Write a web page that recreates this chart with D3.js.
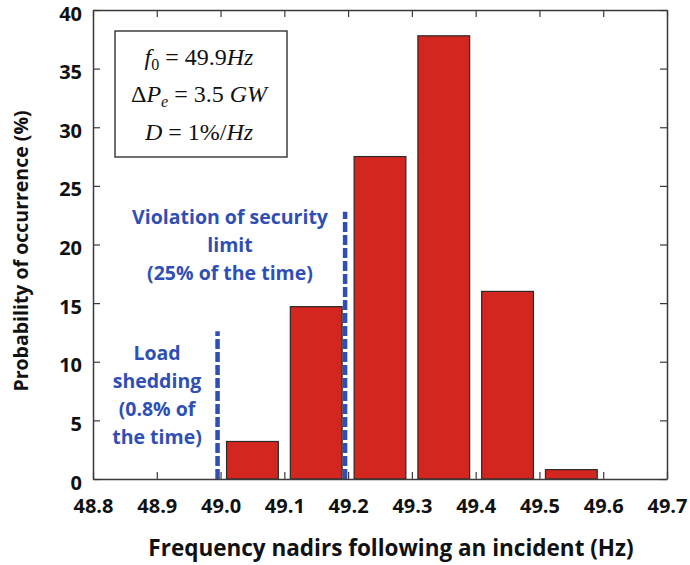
<!DOCTYPE html>
<html><head><meta charset="utf-8">
<script src="https://cdn.jsdelivr.net/npm/d3@7"></script>
<style>body{margin:0;background:#fff}svg{display:block}</style>
</head><body>
<svg id="chart" width="690" height="565"></svg>
<script>
const binStarts = [49.0, 49.1, 49.2, 49.3, 49.4, 49.5];
const binWidth = 0.1;
const probabilities = [3.2, 14.7, 27.5, 37.8, 16.0, 0.8];
const xTickValues = [48.8, 48.9, 49.0, 49.1, 49.2, 49.3, 49.4, 49.5, 49.6, 49.7];
const yTickValues = [0, 5, 10, 15, 20, 25, 30, 35, 40];
const limitX = [49.0, 49.2];
const limitTop = [12.6, 22.8];
const loadLabel = ["Load", "shedding", "(0.8% of", "the time)"];
const violationLabel = ["Violation of security", "limit", "(25% of the time)"];

const svg = d3.select("#chart");
const L = 93, R = 667, T = 10, B = 479;
const x = d3.scaleLinear().domain([48.8, 49.7]).range([L, R]);
const y = d3.scaleLinear().domain([0, 40]).range([B, T]);
const font = "'Open Sans', sans-serif";
const axisColor = "#3a3a3a";
const blue = "#2f4fb5";

// bars
svg.append("g").selectAll("rect").data(binStarts).join("rect")
  .attr("x", d => x(d) + 6)
  .attr("width", d => x(d + binWidth) - x(d) - 12)
  .attr("y", (d, i) => y(probabilities[i]))
  .attr("height", (d, i) => y(0) - y(probabilities[i]))
  .attr("fill", "#d3261e")
  .attr("stroke", "#2a2a2a")
  .attr("stroke-width", 1.2);

// dashed limit lines
svg.append("g").selectAll("line").data(limitX).join("line")
  .attr("x1", d => x(d) - 3).attr("x2", d => x(d) - 3)
  .attr("y1", y(0)).attr("y2", (d, i) => y(limitTop[i]))
  .attr("stroke", blue).attr("stroke-width", 4.5)
  .attr("stroke-dasharray", "10,3");

// axes
const tickLen = 7;
const gB = svg.append("g").attr("transform", `translate(0,${B})`)
  .call(d3.axisBottom(x).tickValues(xTickValues).tickFormat(d3.format(".1f")).tickSizeInner(-tickLen).tickSizeOuter(0).tickPadding(20));
const gT = svg.append("g").attr("transform", `translate(0,${T})`)
  .call(d3.axisTop(x).tickValues(xTickValues).tickFormat("").tickSizeInner(-tickLen).tickSizeOuter(0));
const gL = svg.append("g").attr("transform", `translate(${L},0)`)
  .call(d3.axisLeft(y).tickValues(yTickValues).tickSizeInner(-tickLen).tickSizeOuter(0).tickPadding(11));
const gR = svg.append("g").attr("transform", `translate(${R},0)`)
  .call(d3.axisRight(y).tickValues(yTickValues).tickFormat("").tickSizeInner(-tickLen).tickSizeOuter(0));
[gB, gT, gL, gR].forEach(g => {
  g.select(".domain").attr("stroke", axisColor).attr("stroke-width", 1.5);
  g.selectAll(".tick line").attr("stroke", axisColor).attr("stroke-width", 1.2);
  g.selectAll(".tick text").attr("font-family", font).attr("font-weight", "bold")
    .attr("font-size", 20).attr("fill", "#111");
});
gL.selectAll(".tick text").attr("dy", "0.5em");

// axis titles
svg.append("text").attr("x", 391).attr("y", 556)
  .attr("text-anchor", "middle").attr("font-family", font).attr("font-weight", "bold")
  .attr("font-size", 22.5).attr("fill", "#111")
  .text("Frequency nadirs following an incident (Hz)");
svg.append("text").attr("transform", `translate(28,251) rotate(-90)`)
  .attr("text-anchor", "middle").attr("font-family", font).attr("font-weight", "bold")
  .attr("font-size", 19.5).attr("fill", "#111")
  .text("Probability of occurrence (%)");

// annotations
const ann = svg.append("g").attr("font-family", font).attr("font-weight", "bold")
  .attr("font-size", 19.5).attr("fill", blue).attr("text-anchor", "middle");
ann.selectAll("text.load").data(loadLabel).join("text").attr("class", "load")
  .attr("x", 157).attr("y", (d, i) => 360 + i * 28).text(d => d);
ann.selectAll("text.viol").data(violationLabel).join("text").attr("class", "viol")
  .attr("x", 230).attr("y", (d, i) => 224 + i * 28).text(d => d);

// parameter box
svg.append("rect").attr("x", 115).attr("y", 31).attr("width", 172).attr("height", 126)
  .attr("fill", "#fff").attr("stroke", "#222").attr("stroke-width", 1.3);
const serif = "'Liberation Serif', 'DejaVu Serif', serif";
const bx = svg.append("g").attr("font-family", serif).attr("font-size", 24)
  .attr("fill", "#111").attr("text-anchor", "middle");
let t1 = bx.append("text").attr("x", 199).attr("y", 65);
t1.append("tspan").attr("font-style", "italic").text("f");
t1.append("tspan").attr("font-size", 16).attr("dy", 5).text("0");
t1.append("tspan").attr("dy", -5).text(" = 49.9");
t1.append("tspan").attr("font-style", "italic").text("Hz");
let t2 = bx.append("text").attr("x", 199).attr("y", 102);
t2.append("tspan").text("Δ");
t2.append("tspan").attr("font-style", "italic").text("P");
t2.append("tspan").attr("font-style", "italic").attr("font-size", 16).attr("dy", 5).text("e");
t2.append("tspan").attr("dy", -5).text(" = 3.5 ");
t2.append("tspan").attr("font-style", "italic").text("GW");
let t3 = bx.append("text").attr("x", 199).attr("y", 140);
t3.append("tspan").attr("font-style", "italic").text("D");
t3.append("tspan").text(" = 1%/");
t3.append("tspan").attr("font-style", "italic").text("Hz");
</script>
</body></html>
